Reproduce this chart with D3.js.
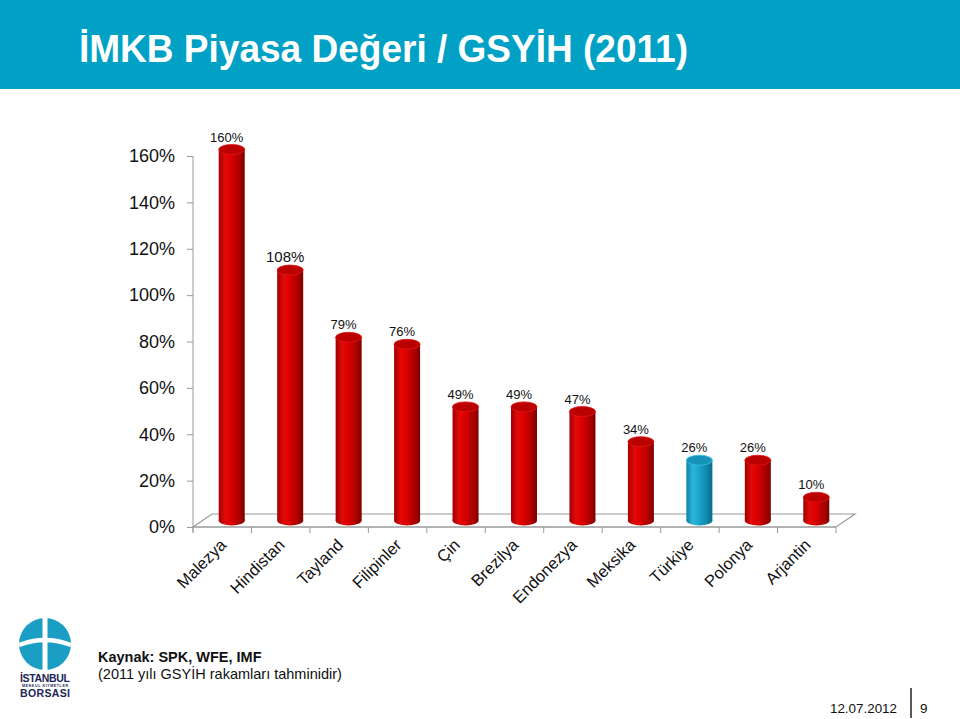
<!DOCTYPE html>
<html>
<head>
<meta charset="utf-8">
<script src="https://cdn.jsdelivr.net/npm/d3@7"></script>
<style>
  body { margin: 0; background: #fff; }
  svg { display: block; font-family: "Liberation Sans", Arial, sans-serif; }
</style>
</head>
<body>
<div id="chart"></div>
<script>
const countries = ["Malezya", "Hindistan", "Tayland", "Filipinler", "Çin", "Brezilya",
    "Endonezya", "Meksika", "Türkiye", "Polonya", "Arjantin"]
const values = [160, 108, 79, 76, 49, 49, 47, 34, 26, 26, 10]
const yTicks = [0, 20, 40, 60, 80, 100, 120, 140, 160]
const highlight = "Türkiye"

const width = 960, height = 719
const left = 193, right = 836, floorY = 527
const depth = [19, -13]   // 3d floor depth (dx, dy)

const svg = d3.select("#chart").append("svg")
    .attr("width", width)
    .attr("height", height)
    .attr("viewBox", [0, 0, width, height])

// header band
svg.append("rect")
    .attr("width", width)
    .attr("height", 89)
    .attr("fill", "#00a1c5")
svg.append("text")
    .attr("x", 79)
    .attr("y", 62)
    .attr("fill", "#fff")
    .attr("font-size", 38)
    .attr("font-weight", "bold")
    .attr("textLength", 609)
    .attr("lengthAdjust", "spacingAndGlyphs")
    .text("İMKB Piyasa Değeri / GSYİH (2011)")

// scales
const x = d3.scaleBand(countries, [left, right]).padding(0)
const y = d3.scaleLinear([0, 160], [floorY, 156])
const bx = d => x(d) + x.bandwidth() / 2 + depth[0] / 2 // bar centre, mid depth
const by = v => y(v) + depth[1] / 2

// gradients
const defs = svg.append("defs")
function grad(id, stops) {
    const g = defs.append("linearGradient").attr("id", id)
        .attr("x1", 0).attr("x2", 1).attr("y1", 0).attr("y2", 0)
    stops.forEach(([o, c]) => g.append("stop").attr("offset", o).attr("stop-color", c))
}
grad("red", [[0, "#a00000"], [0.25, "#e20a0a"], [0.45, "#de0000"], [0.8, "#aa0000"], [1, "#7c0000"]])
grad("blue", [[0, "#0d7fa3"], [0.25, "#2cb6dd"], [0.5, "#1aa3cb"], [0.8, "#0f86ab"], [1, "#0a6a88"]])

// floor
const gray = "#9a9a9a"
svg.append("path")
    .attr("fill", "none")
    .attr("stroke", gray)
    .attr("stroke-width", 1.2)
    .attr("d", `M${left},${floorY}L${left + depth[0]},${floorY + depth[1]}` +
        `L${right + depth[0]},${floorY + depth[1]}L${right},${floorY}Z`)

// bars as cylinders
const rx = 13, ry = 5
const bars = svg.append("g")
    .selectAll("g")
    .data(countries)
    .join("g")

bars.append("rect")
    .attr("x", d => bx(d) - rx)
    .attr("y", (d, i) => by(values[i]))
    .attr("width", rx * 2)
    .attr("height", (d, i) => by(0) - by(values[i]))
    .attr("fill", d => d === highlight ? "url(#blue)" : "url(#red)")
bars.append("ellipse")
    .attr("cx", bx)
    .attr("cy", by(0))
    .attr("rx", rx)
    .attr("ry", ry)
    .attr("fill", d => d === highlight ? "url(#blue)" : "url(#red)")
bars.append("ellipse")
    .attr("cx", bx)
    .attr("cy", (d, i) => by(values[i]))
    .attr("rx", rx)
    .attr("ry", ry)
    .attr("fill", d => d === highlight ? "#1793b9" : "#bb0000")
    .attr("stroke", d => d === highlight ? "#3cc0e4" : "#e01818")
    .attr("stroke-width", 0.8)

bars.append("text")
    .attr("x", d => bx(d) - 5)
    .attr("y", (d, i) => by(values[i]) - 8)
    .attr("text-anchor", "middle")
    .attr("font-size", (d, i) => i === 1 ? 15 : 13)
    .attr("fill", "#111")
    .text((d, i) => values[i] + "%")

// y axis
svg.append("g")
    .attr("transform", `translate(${left},0)`)
    .call(d3.axisLeft(y).tickValues(yTicks).tickFormat(d => d + "%").tickSize(6).tickPadding(12))
    .call(g => g.select(".domain").attr("stroke", gray).attr("d", `M0,${y(160)}V${floorY + 5}`))
    .call(g => g.selectAll(".tick line").attr("stroke", gray))
    .call(g => g.selectAll("text")
        .attr("font-family", "Liberation Sans, Arial, sans-serif")
        .attr("font-size", 18)
        .attr("fill", "#111"))

// x axis: ticks at category boundaries, rotated labels
const xg = svg.append("g")
svg.append("line")
    .attr("x1", left).attr("x2", right)
    .attr("y1", floorY).attr("y2", floorY)
    .attr("stroke", gray).attr("stroke-width", 1.2)
xg.selectAll("line")
    .data(countries.concat([null]))
    .join("line")
    .attr("x1", d => d === null ? right : x(d))
    .attr("x2", d => d === null ? right : x(d))
    .attr("y1", floorY)
    .attr("y2", floorY + 6)
    .attr("stroke", gray)
xg.selectAll("text")
    .data(countries)
    .join("text")
    .attr("transform", d => `translate(${x(d) + x.bandwidth() / 2 + 5},${floorY + 19}) rotate(-45)`)
    .attr("text-anchor", "end")
    .attr("font-size", 16.5)
    .attr("fill", "#111")
    .text(d => d)

// logo
const logo = svg.append("g")
const cx = 45, cy = 644, r = 26
logo.append("circle").attr("cx", cx).attr("cy", cy).attr("r", r).attr("fill", "#1a9ec3")
logo.append("rect").attr("x", cx - 2.5).attr("y", cy - r).attr("width", 5).attr("height", r * 2).attr("fill", "#fff")
logo.append("path")
    .attr("d", `M${cx - r},${cy + 1}Q${cx},${cy - 9} ${cx + r},${cy + 1}`)
    .attr("fill", "none").attr("stroke", "#fff").attr("stroke-width", 4.5)
logo.append("text").attr("x", cx).attr("y", 682).attr("text-anchor", "middle")
    .attr("font-size", 10.5).attr("font-weight", "bold").attr("fill", "#1c2657")
    .attr("textLength", 50).text("İSTANBUL")
logo.append("text").attr("x", cx).attr("y", 686.5).attr("text-anchor", "middle")
    .attr("font-size", 3.6).attr("font-weight", "bold").attr("fill", "#1c2657")
    .attr("textLength", 46).text("MENKUL KIYMETLER")
logo.append("text").attr("x", cx).attr("y", 697).attr("text-anchor", "middle")
    .attr("font-size", 10.5).attr("font-weight", "bold").attr("fill", "#1c2657")
    .attr("textLength", 50).text("BORSASI")

// source notes
svg.append("text")
    .attr("x", 98).attr("y", 662)
    .attr("font-size", 14.5).attr("font-weight", "bold").attr("fill", "#111")
    .text("Kaynak: SPK, WFE, IMF")
svg.append("text")
    .attr("x", 98).attr("y", 679)
    .attr("font-size", 14.5).attr("fill", "#111")
    .text("(2011 yılı GSYİH rakamları tahminidir)")

// footer
svg.append("text")
    .attr("x", 897).attr("y", 713).attr("text-anchor", "end")
    .attr("font-size", 13.4).attr("fill", "#111")
    .text("12.07.2012")
svg.append("line")
    .attr("x1", 911).attr("x2", 911).attr("y1", 688).attr("y2", 718)
    .attr("stroke", "#222").attr("stroke-width", 1.5)
svg.append("text")
    .attr("x", 920).attr("y", 713)
    .attr("font-size", 13.4).attr("fill", "#111")
    .text("9")
</script>
</body>
</html>
